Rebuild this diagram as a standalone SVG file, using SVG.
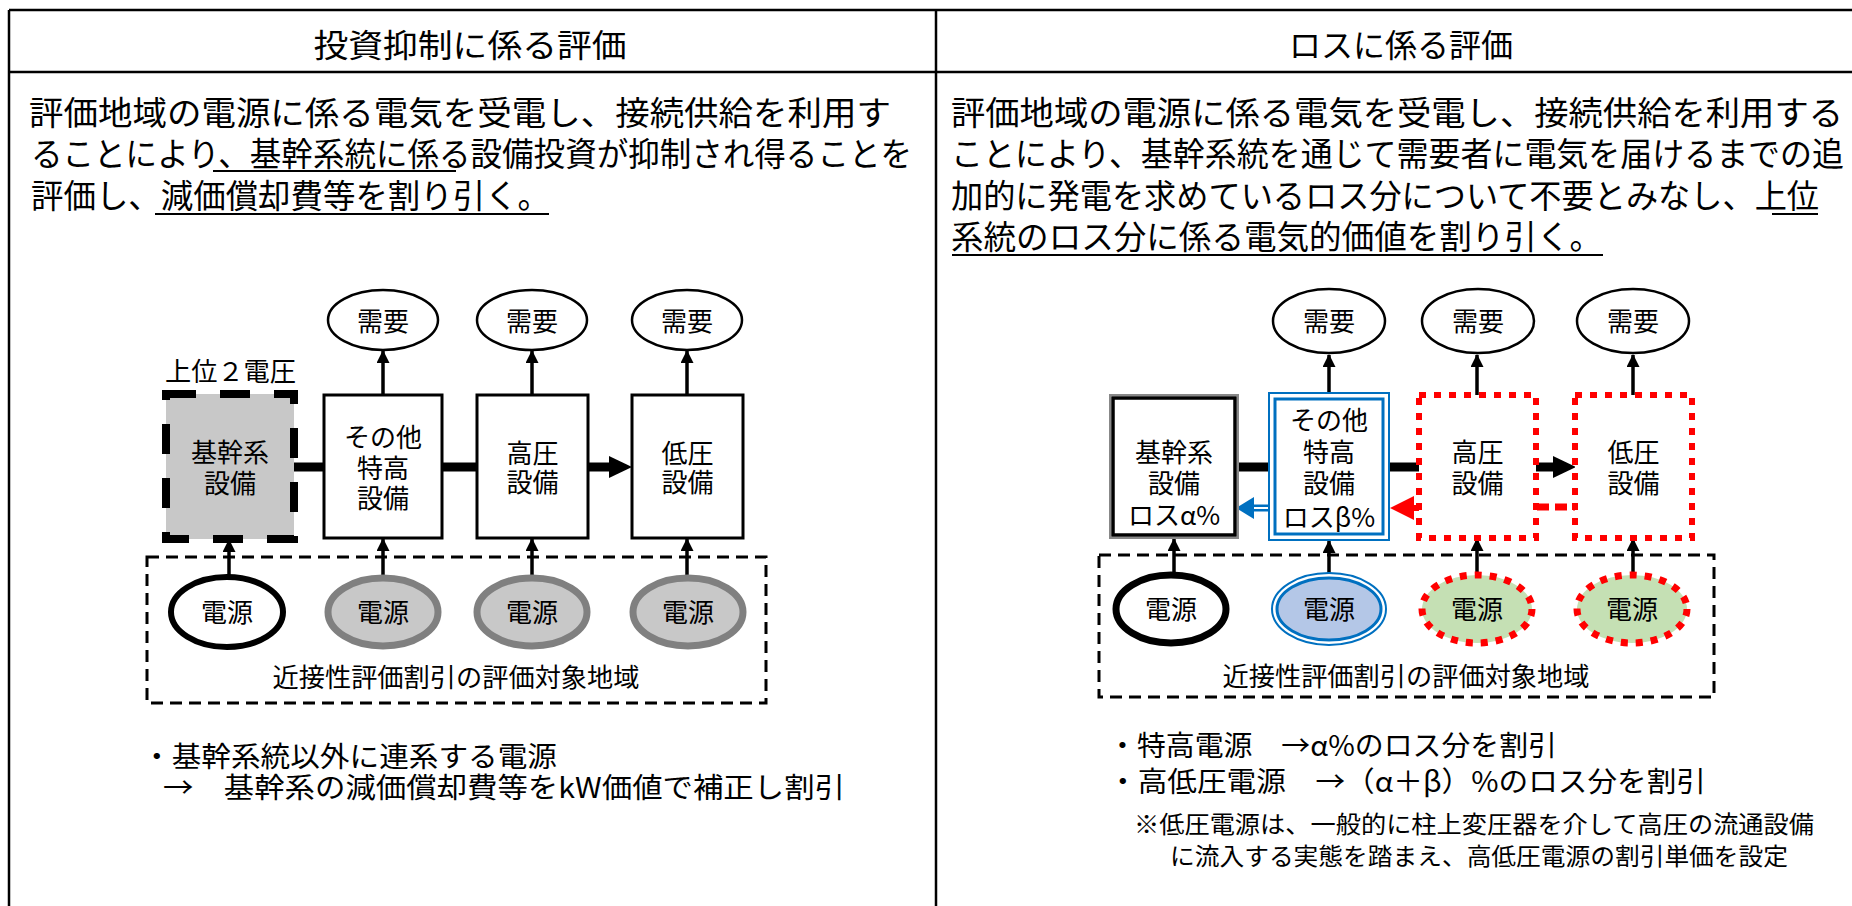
<svg xmlns="http://www.w3.org/2000/svg" width="1852" height="906" viewBox="0 0 1852 906">
<style>
text{font-family:"Noto Sans CJK JP","Noto Sans CJK SC",sans-serif;fill:#000}
.hd{font-size:32px;text-anchor:middle}
.bd{font-size:33px}
.lb{font-size:26px;text-anchor:middle}
.ft{font-size:28px}
.nt{font-size:24px}
.grid{stroke:#000;stroke-width:2.5;fill:none}
.ul{stroke:#000;stroke-width:2}
.box{fill:#fff;stroke:#000;stroke-width:3}
.dem{fill:#fff;stroke:#000;stroke-width:2.5}
.area{fill:none;stroke:#000;stroke-width:3;stroke-dasharray:12 7}
.bus{stroke:#000;stroke-width:9}
.up{stroke:#000;stroke-width:3.5;marker-end:url(#ah)}
.rdot{fill:#fff;stroke:#f00;stroke-width:6;stroke-dasharray:7 8}
</style>
<defs>
<marker id="ah" viewBox="0 0 14 14" refX="13" refY="7" markerUnits="userSpaceOnUse" markerWidth="14" markerHeight="13" orient="auto">
<path d="M0,0 L14,7 L0,14 z" fill="#000"/>
</marker>
</defs>

<g id="table">
<line class="grid" x1="9" y1="10" x2="1852" y2="10"/>
<line class="grid" x1="9" y1="72" x2="1852" y2="72"/>
<line class="grid" x1="9" y1="10" x2="9" y2="906"/>
<line class="grid" x1="936" y1="10" x2="936" y2="906"/>
<text class="hd" x="470" y="57" textLength="313" lengthAdjust="spacingAndGlyphs">投資抑制に係る評価</text>
<text class="hd" x="1401" y="57" textLength="224" lengthAdjust="spacingAndGlyphs">ロスに係る評価</text>
</g>

<g id="left-text">
<text class="bd" x="29" y="125" textLength="862" lengthAdjust="spacingAndGlyphs">評価地域の電源に係る電気を受電し、接続供給を利用す</text>
<text class="bd" x="31" y="166" textLength="881" lengthAdjust="spacingAndGlyphs">ることにより、基幹系統に係る設備投資が抑制され得ることを</text>
<text class="bd" x="31" y="208" textLength="519" lengthAdjust="spacingAndGlyphs">評価し、減価償却費等を割り引く。</text>
<line class="ul" x1="213" y1="171" x2="456" y2="171"/>
<line class="ul" x1="155" y1="214" x2="549" y2="214"/>
<text class="ft" x="142" y="767" textLength="415" lengthAdjust="spacingAndGlyphs">・基幹系統以外に連系する電源</text>
<text class="ft" x="163" y="798" textLength="682" lengthAdjust="spacingAndGlyphs">→　基幹系の減価償却費等をkW価値で補正し割引</text>
</g>

<g id="right-text">
<text class="bd" x="951" y="125" textLength="892" lengthAdjust="spacingAndGlyphs">評価地域の電源に係る電気を受電し、接続供給を利用する</text>
<text class="bd" x="951" y="166" textLength="893" lengthAdjust="spacingAndGlyphs">ことにより、基幹系統を通じて需要者に電気を届けるまでの追</text>
<text class="bd" x="951" y="208" textLength="868" lengthAdjust="spacingAndGlyphs">加的に発電を求めているロス分について不要とみなし、上位</text>
<text class="bd" x="951" y="249" textLength="651" lengthAdjust="spacingAndGlyphs">系統のロス分に係る電気的価値を割り引く。</text>
<line class="ul" x1="1772" y1="214" x2="1818" y2="214"/>
<line class="ul" x1="952" y1="255" x2="1603" y2="255"/>
<text class="ft" x="1108" y="756" textLength="449" lengthAdjust="spacingAndGlyphs">・特高電源　→α%のロス分を割引</text>
<text class="ft" x="1108" y="792" textLength="598" lengthAdjust="spacingAndGlyphs">・高低圧電源　→（α＋β）%のロス分を割引</text>
<text class="nt" x="1134" y="833" textLength="680" lengthAdjust="spacingAndGlyphs">※低圧電源は、一般的に柱上変圧器を介して高圧の流通設備</text>
<text class="nt" x="1170" y="865" textLength="618" lengthAdjust="spacingAndGlyphs">に流入する実態を踏まえ、高低圧電源の割引単価を設定</text>
</g>

<g id="connectors">
<!-- left -->
<line class="bus" x1="294" y1="467" x2="324" y2="467"/>
<line class="bus" x1="442" y1="467" x2="477" y2="467"/>
<line class="bus" x1="588" y1="467" x2="612" y2="467"/>
<polygon points="609,456 632,467 609,478" fill="#000"/>
<line class="up" x1="383" y1="395" x2="383" y2="351"/>
<line class="up" x1="532" y1="395" x2="532" y2="351"/>
<line class="up" x1="687" y1="395" x2="687" y2="351"/>
<line class="up" x1="229" y1="576" x2="229" y2="540"/>
<line class="up" x1="383" y1="576" x2="383" y2="539"/>
<line class="up" x1="532" y1="576" x2="532" y2="539"/>
<line class="up" x1="687" y1="576" x2="687" y2="539"/>
<!-- right -->
<line class="bus" x1="1238" y1="467" x2="1269" y2="467"/>
<line class="bus" x1="1389" y1="467" x2="1419" y2="467"/>
<line class="bus" x1="1536" y1="467" x2="1556" y2="467"/>
<polygon points="1553,456 1576,467 1553,478" fill="#000"/>
<line x1="1537" y1="507" x2="1575" y2="507" stroke="#f00" stroke-width="7" stroke-dasharray="12 6"/>
<line x1="1419" y1="508" x2="1405" y2="508" stroke="#f00" stroke-width="6"/>
<polygon points="1390,508 1414,496 1414,520" fill="#f00"/>
<line x1="1269" y1="508" x2="1250" y2="508" stroke="#0070c0" stroke-width="7"/>
<line x1="1269" y1="508" x2="1250" y2="508" stroke="#fff" stroke-width="2"/>
<polygon points="1236,508 1254,497 1254,519" fill="#0070c0"/>
<line class="up" x1="1329" y1="393" x2="1329" y2="355"/>
<line class="up" x1="1477" y1="395" x2="1477" y2="355"/>
<line class="up" x1="1633" y1="395" x2="1633" y2="355"/>
<line class="up" x1="1174" y1="573" x2="1174" y2="539"/>
<line class="up" x1="1329" y1="573" x2="1329" y2="541"/>
<line class="up" x1="1477" y1="573" x2="1477" y2="539"/>
<line class="up" x1="1633" y1="573" x2="1633" y2="539"/>
</g>

<g id="left-area"><rect class="area" x="147" y="557" width="619" height="146"/>
<text class="lb" x="456" y="687" textLength="367" lengthAdjust="spacingAndGlyphs">近接性評価割引の評価対象地域</text></g>

<g id="left-kikan">
<rect x="166" y="394" width="128" height="145" fill="#c8c8c8" stroke="#000" stroke-width="8" stroke-dasharray="30 24"/>
<text class="lb" x="230" y="462">基幹系</text><text class="lb" x="230" y="493">設備</text>
<text style="font-size:26px" x="165" y="381" textLength="131" lengthAdjust="spacingAndGlyphs">上位２電圧</text>
</g>
<g id="left-tokko"><rect class="box" x="324" y="395" width="118" height="143"/>
<text class="lb" x="383" y="447">その他</text><text class="lb" x="383" y="478">特高</text><text class="lb" x="383" y="508">設備</text></g>
<g id="left-koatsu"><rect class="box" x="477" y="395" width="111" height="143"/>
<text class="lb" x="532.5" y="463">高圧</text><text class="lb" x="532.5" y="492">設備</text></g>
<g id="left-teiatsu"><rect class="box" x="632" y="395" width="111" height="143"/>
<text class="lb" x="687.5" y="463">低圧</text><text class="lb" x="687.5" y="492">設備</text></g>
<g id="left-dem1"><ellipse class="dem" cx="383" cy="320" rx="55" ry="30"/><text class="lb" x="383" y="331">需要</text></g>
<g id="left-dem2"><ellipse class="dem" cx="532" cy="320" rx="55" ry="30"/><text class="lb" x="532" y="331">需要</text></g>
<g id="left-dem3"><ellipse class="dem" cx="687" cy="320" rx="55" ry="30"/><text class="lb" x="687" y="331">需要</text></g>
<g id="left-src1"><ellipse cx="227" cy="612" rx="56" ry="35" fill="#fff" stroke="#000" stroke-width="6"/><text class="lb" x="227" y="622">電源</text></g>
<g id="left-src2"><ellipse cx="383" cy="612" rx="55" ry="34" fill="#c8c8c8" stroke="#808080" stroke-width="7"/><text class="lb" x="383" y="622">電源</text></g>
<g id="left-src3"><ellipse cx="532" cy="612" rx="55" ry="34" fill="#c8c8c8" stroke="#808080" stroke-width="7"/><text class="lb" x="532" y="622">電源</text></g>
<g id="left-src4"><ellipse cx="688" cy="612" rx="55" ry="34" fill="#c8c8c8" stroke="#808080" stroke-width="7"/><text class="lb" x="688" y="622">電源</text></g>

<g id="right-area"><rect class="area" x="1099" y="555" width="615" height="142"/>
<text class="lb" x="1406" y="686" textLength="367" lengthAdjust="spacingAndGlyphs">近接性評価割引の評価対象地域</text></g>
<g id="right-kikan">
<rect x="1110" y="395" width="128" height="143" fill="#fff" stroke="#888" stroke-width="2"/>
<rect x="1113" y="398" width="122" height="137" fill="none" stroke="#000" stroke-width="3.5"/>
<text class="lb" x="1174" y="462">基幹系</text><text class="lb" x="1174" y="493">設備</text><text class="lb" x="1174" y="525">ロスα%</text>
</g>
<g id="right-tokko">
<rect x="1269" y="393" width="120" height="147" fill="#fff" stroke="#0070c0" stroke-width="2"/>
<rect x="1275" y="399" width="108" height="135" fill="none" stroke="#0070c0" stroke-width="3"/>
<text class="lb" x="1329" y="430">その他</text><text class="lb" x="1329" y="462">特高</text><text class="lb" x="1329" y="493">設備</text><text class="lb" x="1329" y="527">ロスβ%</text>
</g>
<g id="right-koatsu"><rect class="rdot" x="1419" y="395" width="117" height="143"/>
<text class="lb" x="1477.5" y="462">高圧</text><text class="lb" x="1477.5" y="493">設備</text></g>
<g id="right-teiatsu"><rect class="rdot" x="1575" y="395" width="117" height="143"/>
<text class="lb" x="1633.5" y="462">低圧</text><text class="lb" x="1633.5" y="493">設備</text></g>
<g id="right-dem1"><ellipse class="dem" cx="1329" cy="321" rx="56" ry="32"/><text class="lb" x="1329" y="331">需要</text></g>
<g id="right-dem2"><ellipse class="dem" cx="1478" cy="321" rx="56" ry="32"/><text class="lb" x="1478" y="331">需要</text></g>
<g id="right-dem3"><ellipse class="dem" cx="1633" cy="321" rx="56" ry="32"/><text class="lb" x="1633" y="331">需要</text></g>
<g id="right-src1"><ellipse cx="1171" cy="609" rx="55" ry="34" fill="#fff" stroke="#000" stroke-width="7"/><text class="lb" x="1171" y="619">電源</text></g>
<g id="right-src2"><ellipse cx="1329" cy="609" rx="57" ry="36" fill="#fff" stroke="#0070c0" stroke-width="2"/><ellipse cx="1329" cy="609" rx="52" ry="31" fill="#b4c7e7" stroke="#0070c0" stroke-width="3"/><text class="lb" x="1329" y="619">電源</text></g>
<g id="right-src3"><ellipse cx="1477" cy="609" rx="55" ry="34" fill="#c5e0b4" stroke="#f00" stroke-width="7" stroke-dasharray="7 8"/><text class="lb" x="1477" y="619">電源</text></g>
<g id="right-src4"><ellipse cx="1632" cy="609" rx="55" ry="34" fill="#c5e0b4" stroke="#f00" stroke-width="7" stroke-dasharray="7 8"/><text class="lb" x="1632" y="619">電源</text></g>
</svg>
